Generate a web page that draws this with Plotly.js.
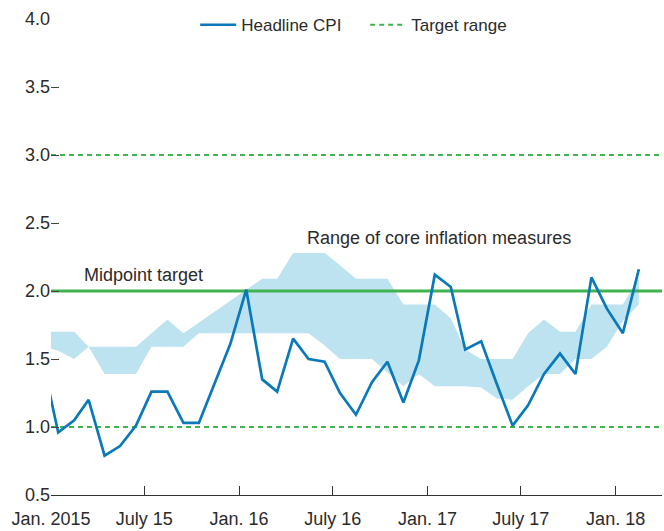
<!DOCTYPE html>
<html>
<head>
<meta charset="utf-8">
<script src="https://cdn.plot.ly/plotly-3.0.1.min.js"></script>
<style>html,body{margin:0;padding:0;background:#fff;}#chart{width:664px;height:531px;}</style>
</head>
<body>
<div id="chart"></div>
<script>
// Monthly observations, Dec 2014 – Feb 2018 (plotted mid-month)
const months = [
  '2014-12','2015-01','2015-02','2015-03','2015-04','2015-05','2015-06','2015-07','2015-08','2015-09','2015-10','2015-11','2015-12',
  '2016-01','2016-02','2016-03','2016-04','2016-05','2016-06','2016-07','2016-08','2016-09','2016-10','2016-11','2016-12',
  '2017-01','2017-02','2017-03','2017-04','2017-05','2017-06','2017-07','2017-08','2017-09','2017-10','2017-11','2017-12',
  '2018-01','2018-02'
];
const headlineCPI = [
  1.50, 0.96, 1.05, 1.20, 0.79, 0.86, 1.01, 1.26, 1.26, 1.03, 1.03, 1.32, 1.61,
  2.01, 1.35, 1.26, 1.65, 1.50, 1.48, 1.25, 1.09, 1.33, 1.48, 1.18, 1.49,
  2.12, 2.03, 1.57, 1.63, 1.32, 1.01, 1.16, 1.39, 1.54, 1.39, 2.10, 1.87,
  1.69, 2.16
];
const coreUpper = [
  1.70, 1.70, 1.70, 1.59, 1.59, 1.59, 1.59, 1.69, 1.79, 1.69, 1.77, 1.85, 1.93,
  2.01, 2.09, 2.09, 2.28, 2.28, 2.28, 2.19, 2.09, 2.09, 2.09, 1.90, 1.90,
  1.90, 1.80, 1.57, 1.50, 1.50, 1.50, 1.69, 1.79, 1.70, 1.70, 1.90, 1.90,
  1.90, 2.10
];
const coreLower = [
  1.60, 1.56, 1.50, 1.59, 1.39, 1.39, 1.39, 1.59, 1.59, 1.59, 1.69, 1.69, 1.69,
  1.69, 1.69, 1.69, 1.69, 1.69, 1.60, 1.50, 1.50, 1.50, 1.40, 1.30, 1.39,
  1.30, 1.30, 1.30, 1.29, 1.21, 1.20, 1.30, 1.39, 1.39, 1.50, 1.50, 1.59,
  1.78, 1.90
];
const midpointTarget = 2.0;
const targetRange = [1.0, 3.0];
const xRange = ['2015-01-01', '2018-04-01'];
const tickDates = ['2015-01-01','2015-07-01','2016-01-01','2016-07-01','2017-01-01','2017-07-01','2018-01-01'];
const tickLabels = ['Jan. 2015','July 15','Jan. 16','July 16','Jan. 17','July 17','Jan. 18'];
const yTicks = [0.5, 1.0, 1.5, 2.0, 2.5, 3.0, 3.5, 4.0];

const dates = months.map(m => m + '-15');
const FONT = '"Liberation Sans", Arial, sans-serif';
const TXT = '#2b2b2b';

const traces = [
  {x: dates, y: coreLower, type: 'scatter', mode: 'lines', line: {width: 0, color: 'rgba(0,0,0,0)'},
   showlegend: false, hoverinfo: 'skip'},
  {x: dates, y: coreUpper, type: 'scatter', mode: 'lines', line: {width: 0, color: 'rgba(0,0,0,0)'},
   fill: 'tonexty', fillcolor: '#bde3f1', showlegend: false, hoverinfo: 'skip'},
  {x: [xRange[0], xRange[1]], y: [midpointTarget, midpointTarget], type: 'scatter', mode: 'lines',
   line: {color: '#3fb34f', width: 2.8}, showlegend: false},
  {x: [xRange[0], xRange[1], null, xRange[0], xRange[1]],
   y: [targetRange[0], targetRange[0], null, targetRange[1], targetRange[1]],
   type: 'scatter', mode: 'lines', connectgaps: false,
   line: {color: '#3fb34f', width: 2.2, dash: '5px,4px'}, name: 'Target range', legendrank: 2},
  {x: dates, y: headlineCPI, type: 'scatter', mode: 'lines',
   line: {color: '#0a79b9', width: 2.7}, name: 'Headline CPI', legendrank: 1}
];

const layout = {
  width: 664, height: 531,
  margin: {l: 51, r: 2, t: 19, b: 36},
  paper_bgcolor: '#fff', plot_bgcolor: '#fff',
  font: {family: FONT, color: TXT, size: 18},
  showlegend: true,
  legend: {orientation: 'h', x: 0.236, xanchor: 'left', y: 0.987, yanchor: 'middle',
           itemwidth: 36, entrywidth: 119,
           bgcolor: 'rgba(0,0,0,0)', font: {size: 17, family: FONT, color: TXT}, traceorder: 'normal'},
  xaxis: {type: 'date', range: xRange, tickvals: tickDates, ticktext: tickLabels,
          ticks: 'inside', ticklen: 9, tickcolor: '#333', tickwidth: 1, ticklabelstandoff: 7,
          showline: true, linecolor: '#333', linewidth: 1.2, showgrid: false, zeroline: false,
          tickfont: {size: 18, family: FONT, color: TXT}, fixedrange: true},
  yaxis: {range: [0.5, 4.0], tickvals: yTicks, tickformat: '.1f',
          ticks: 'inside', ticklen: 8, tickcolor: '#444', tickwidth: 1,
          showline: false, showgrid: false, zeroline: false,
          tickfont: {size: 18, family: FONT, color: TXT}, fixedrange: true},
  yaxis2: {range: [0.5, 4.0], tickvals: yTicks, overlaying: 'y', side: 'right',
           ticks: 'inside', ticklen: 8, tickcolor: '#666', tickwidth: 1,
           showticklabels: false, showline: false, showgrid: false, zeroline: false, fixedrange: true},
  annotations: [
    {text: 'Midpoint target', xref: 'paper', x: 0.051, xanchor: 'left', yref: 'y', y: 2.12, yanchor: 'middle',
     showarrow: false, font: {size: 18, family: FONT, color: TXT}},
    {text: 'Range of core inflation measures', xref: 'paper', x: 0.416, xanchor: 'left', yref: 'y', y: 2.39, yanchor: 'middle',
     showarrow: false, font: {size: 18, family: FONT, color: TXT}}
  ]
};

Plotly.newPlot('chart', traces, layout, {displayModeBar: false, staticPlot: true});
</script>
</body>
</html>
